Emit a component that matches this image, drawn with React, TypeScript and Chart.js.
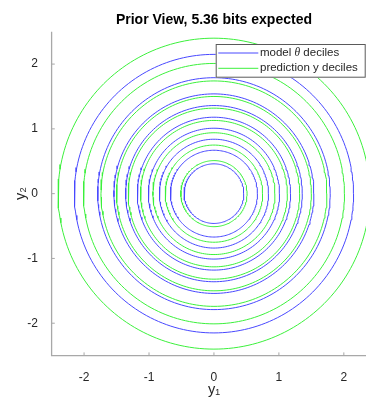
import React, { useEffect, useRef } from 'react';
import { Chart, registerables } from 'chart.js';

Chart.register(...registerables);

const titleText = 'Prior View, 5.36 bits expected';
const modelDeciles = [0.46, 0.67, 0.84, 1.01, 1.18, 1.36, 1.54, 1.79, 2.15];
const predictionDeciles = [0.51, 0.75, 0.94, 1.13, 1.32, 1.5, 1.74, 2.01, 2.4];
const tickValues = [-2, -1, 0, 1, 2];
const axisRange = [-2.5, 2.5];
const legendParts = [
  ['model ', 'θ', ' deciles'],
  ['prediction y deciles', '', ''],
];
const xLabel = 'y₁';
const yLabel = 'y₂';

const BLUE = '#4848ff';
const GREEN = '#3cf03c';
const FONT = "'Liberation Sans', Arial, Helvetica, sans-serif";
const AXIS_COLOR = '#a8a8a8';
const TEXT_COLOR = '#262626';

function circlePoints(r: number) {
  const pts: { x: number; y: number }[] = [];
  const n = 200;
  for (let i = 0; i <= n; i++) {
    const a = (i / n) * Math.PI * 2;
    pts.push({ x: r * Math.cos(a), y: r * Math.sin(a) });
  }
  return pts;
}

const decorPlugin = {
  id: 'decor',
  afterDraw(chart: any) {
    const ctx = chart.ctx as CanvasRenderingContext2D;
    const area = chart.chartArea;
    const xs = chart.scales.x;
    const ys = chart.scales.y;
    ctx.save();
    ctx.strokeStyle = AXIS_COLOR;
    ctx.lineWidth = 1.3;
    ctx.beginPath();
    ctx.moveTo(area.left, area.top);
    ctx.lineTo(area.left, area.bottom);
    ctx.lineTo(area.right, area.bottom);
    ctx.stroke();
    ctx.lineWidth = 1;
    ctx.beginPath();
    xs.ticks.forEach((t: any) => {
      const px = xs.getPixelForValue(t.value);
      ctx.moveTo(px, area.bottom);
      ctx.lineTo(px, area.bottom - 3.2);
    });
    ys.ticks.forEach((t: any) => {
      const py = ys.getPixelForValue(t.value);
      ctx.moveTo(area.left, py);
      ctx.lineTo(area.left + 3.2, py);
    });
    ctx.stroke();

    const bw = 150;
    const bh = 33.7;
    const bx = area.right - 10.6 - bw;
    const by = area.top + 12.3;
    ctx.fillStyle = '#ffffff';
    ctx.fillRect(bx, by, bw, bh);
    ctx.strokeStyle = '#5a5a5a';
    ctx.lineWidth = 1;
    ctx.strokeRect(bx + 0.5, by + 0.5, bw - 1, bh - 1);
    const colors = [BLUE, GREEN];
    const rows = [by + 9, by + 24.3];
    legendParts.forEach((parts, i) => {
      const y = rows[i];
      ctx.strokeStyle = colors[i];
      ctx.lineWidth = 1;
      ctx.beginPath();
      ctx.moveTo(bx + 2.6, y);
      ctx.lineTo(bx + 42.6, y);
      ctx.stroke();
      ctx.fillStyle = TEXT_COLOR;
      ctx.textBaseline = 'middle';
      ctx.textAlign = 'left';
      let tx = bx + 44.3;
      const normal = `11.5px ${FONT}`;
      const italic = `italic 11.5px 'Liberation Serif', 'Times New Roman', serif`;
      ctx.font = normal;
      ctx.fillText(parts[0], tx, y);
      tx += ctx.measureText(parts[0]).width;
      if (parts[1]) {
        ctx.font = italic;
        ctx.fillText(parts[1], tx, y);
        tx += ctx.measureText(parts[1]).width;
      }
      if (parts[2]) {
        ctx.font = normal;
        ctx.fillText(parts[2], tx, y);
      }
    });
    ctx.restore();
  },
};

export default function App() {
  const ref = useRef<HTMLCanvasElement | null>(null);

  useEffect(() => {
    if (!ref.current) return;
    const datasets: any[] = [];
    const mk = (r: number, color: string) => ({
      data: circlePoints(r),
      borderColor: color,
      borderWidth: 1,
      pointRadius: 0,
      showLine: true,
      fill: false,
      tension: 0,
    });
    modelDeciles.forEach((r) => datasets.push(mk(r, BLUE)));
    predictionDeciles.forEach((r) => datasets.push(mk(r, GREEN)));

    const chart = new Chart(ref.current, {
      type: 'scatter',
      data: { datasets },
      plugins: [decorPlugin],
      options: {
        animation: false,
        responsive: false,
        events: [],
        layout: { padding: { left: 0, right: 13.7, top: 0, bottom: 0 } },
        plugins: {
          legend: { display: false },
          tooltip: { enabled: false },
          title: {
            display: true,
            text: titleText,
            fullSize: false,
            color: '#000000',
            font: { family: FONT, size: 14, weight: 'bold', lineHeight: 1.2 },
            padding: { top: 11.7, bottom: 3.2 },
          },
        },
        scales: {
          x: {
            type: 'linear',
            min: axisRange[0],
            max: axisRange[1],
            afterBuildTicks: (s: any) => {
              s.ticks = tickValues.map((v) => ({ value: v }));
            },
            afterFit: (s: any) => {
              s.height = 43.4;
            },
            grid: { display: false },
            border: { display: false },
            ticks: {
              color: TEXT_COLOR,
              font: { family: FONT, size: 12, lineHeight: 1.2 },
              padding: 6.5,
              callback: (v: any) => String(v),
              maxRotation: 0,
            },
            title: {
              display: true,
              text: xLabel,
              color: TEXT_COLOR,
              font: { family: FONT, size: 14.5, lineHeight: 1.2 },
              padding: { top: 0, bottom: 0.6 },
            },
          },
          y: {
            type: 'linear',
            min: axisRange[0],
            max: axisRange[1],
            afterBuildTicks: (s: any) => {
              s.ticks = tickValues.map((v) => ({ value: v }));
            },
            afterFit: (s: any) => {
              s.width = 51.6;
            },
            grid: { display: false },
            border: { display: false },
            ticks: {
              color: TEXT_COLOR,
              font: { family: FONT, size: 12, lineHeight: 1.2 },
              padding: 5.6,
              callback: (v: any) => String(v),
            },
            title: {
              display: true,
              text: yLabel,
              color: TEXT_COLOR,
              font: { family: FONT, size: 14.5, lineHeight: 1.2 },
              padding: { top: 12.3, bottom: 0 },
            },
          },
        },
      },
    });
    return () => chart.destroy();
  }, []);

  return (
    <div
      style={{
        position: 'fixed',
        left: 0,
        top: 0,
        width: 366,
        height: 399,
        overflow: 'hidden',
        background: '#ffffff',
      }}
    >
      <canvas ref={ref} width={390} height={399} style={{ width: 390, height: 399, display: 'block' }} />
    </div>
  );
}
